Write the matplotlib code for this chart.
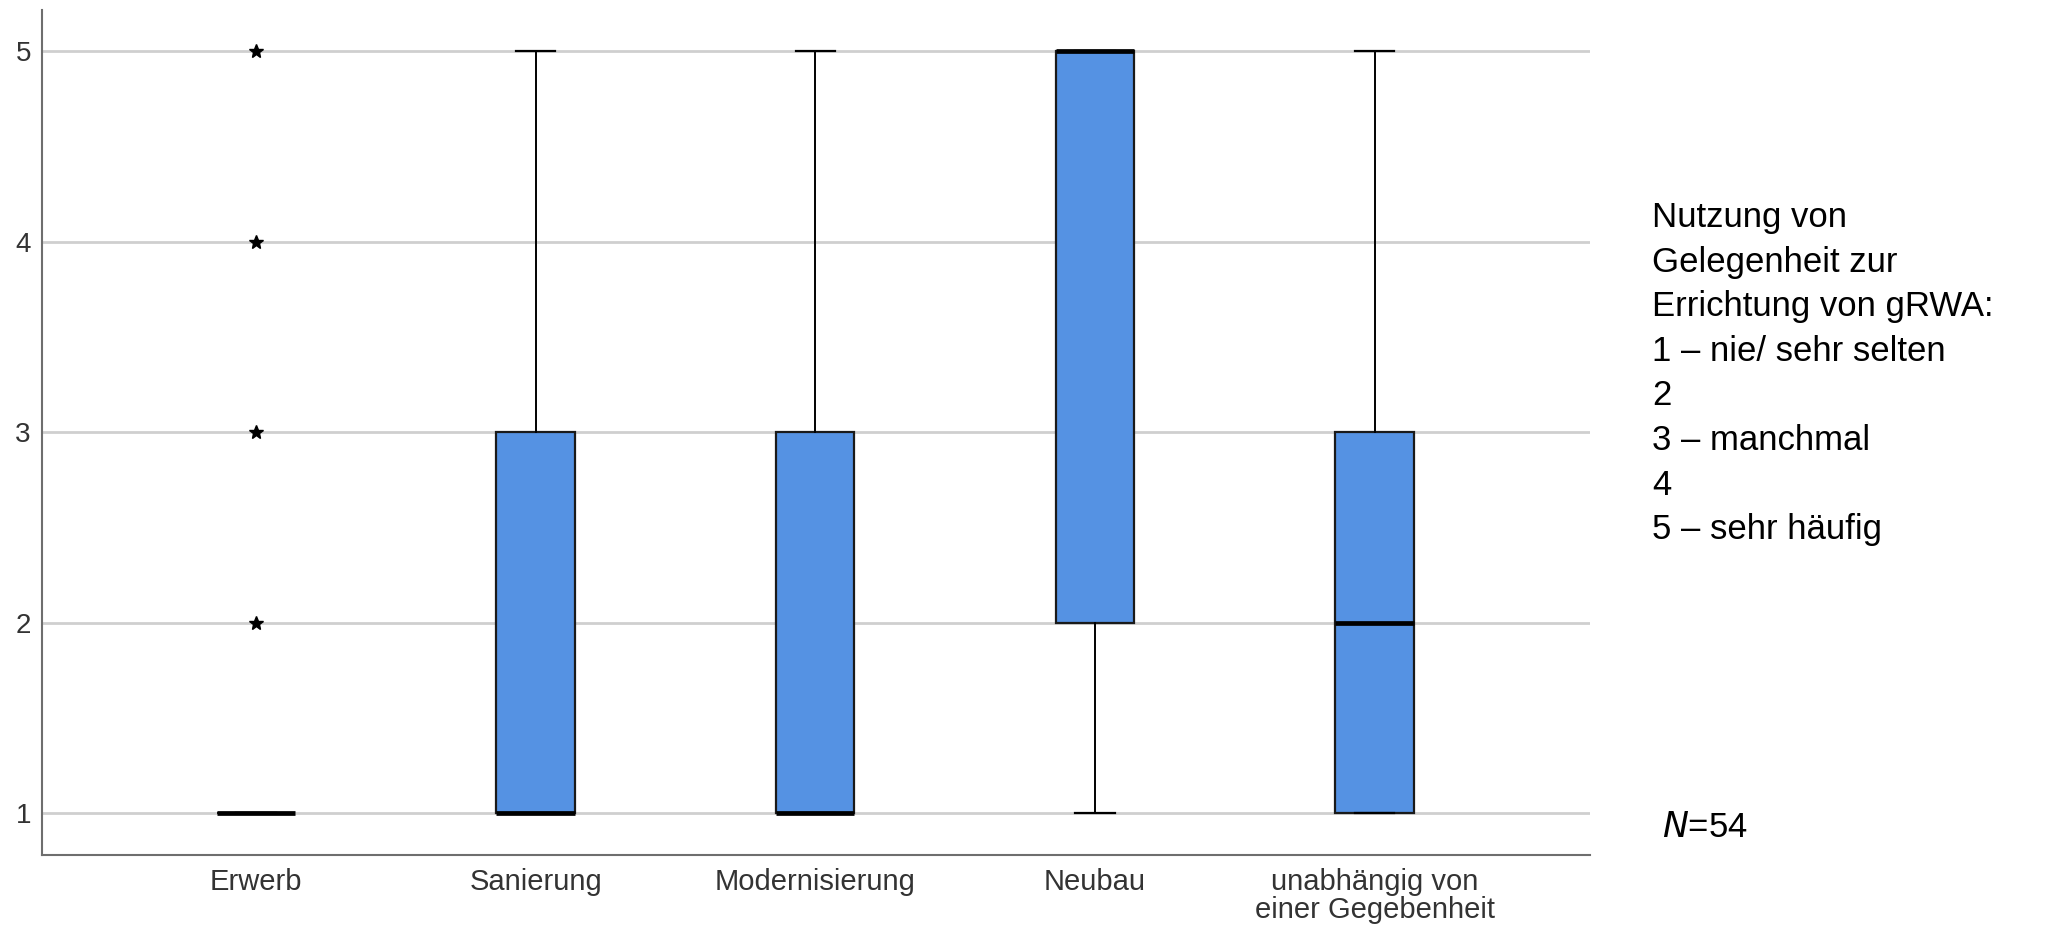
import matplotlib
matplotlib.use("Agg")
import matplotlib.pyplot as plt

plt.rcParams['font.family'] = ['Liberation Sans', 'DejaVu Sans']

# Boxplot summaries for each occasion (scale 1-5)
categories = ["Erwerb", "Sanierung", "Modernisierung", "Neubau",
              "unabhängig von\neiner Gegebenheit"]
q1 = [1, 1, 1, 2, 1]
median = [1, 1, 1, 5, 2]
q3 = [1, 3, 3, 5, 3]
whisker_low = [1, 1, 1, 1, 1]
whisker_high = [1, 5, 5, 5, 5]
outliers = [[2, 3, 4, 5], [], [], [], []]

y_ticks = [1, 2, 3, 4, 5]
legend_lines = ["Nutzung von", "Gelegenheit zur", "Errichtung von gRWA:",
                "1 – nie/ sehr selten", "2", "3 – manchmal", "4", "5 – sehr häufig"]
sample_size = 54

box_color = "#5592E3"
W, H = 2046, 925

fig = plt.figure(figsize=(W / 100, H / 100), dpi=100)
ax = fig.add_axes([42 / W, 1 - 855 / H, (1590 - 42) / W, (855 - 10) / H])

stats = []
for i, name in enumerate(categories):
    stats.append(dict(label=name, q1=q1[i], med=median[i], q3=q3[i],
                      whislo=whisker_low[i], whishi=whisker_high[i], fliers=[]))

positions = list(range(len(categories)))
ax.bxp(stats, positions=positions, widths=0.28, patch_artist=True,
       showfliers=False, showcaps=True,
       boxprops=dict(facecolor=box_color, edgecolor="#1a1a1a", linewidth=1.6),
       medianprops=dict(color="black", linewidth=3.4),
       whiskerprops=dict(color="black", linewidth=1.4),
       capprops=dict(color="black", linewidth=1.6),
       capwidths=0.14, zorder=3)

# extreme values drawn as stars
for pos, vals in zip(positions, outliers):
    if vals:
        ax.plot([pos] * len(vals), vals, linestyle="none", marker="*",
                markersize=10, color="black", zorder=4)

ax.set_xlim(-0.765, 4.77)
ax.set_ylim(0.78, 5.216)
ax.set_yticks(y_ticks)
ax.set_yticklabels([str(v) for v in y_ticks], fontsize=20, color="#333333")
ax.set_xticks(positions)
ax.set_xticklabels(categories, fontsize=21, color="#333333", linespacing=1.0)
ax.tick_params(axis="x", length=0, pad=9)
ax.tick_params(axis="y", length=0, pad=8)

ax.grid(axis="y", color="#cfcfcf", linewidth=2.0, zorder=0)
ax.set_axisbelow(True)
for side in ("top", "right"):
    ax.spines[side].set_visible(False)
for side in ("left", "bottom"):
    ax.spines[side].set_color("#6e6e6e")
    ax.spines[side].set_linewidth(1.5)

# explanatory text to the right of the plot, one line at a time
text_x = 1652 / W
first_baseline = 227
line_step = 44.6
for k, line in enumerate(legend_lines):
    fig.text(text_x, 1 - (first_baseline + k * line_step) / H, line,
             fontsize=25, va="baseline", ha="left", color="black")
fig.text(1662 / W, 1 - 837 / H, f"$\\mathit{{N}}$={sample_size}", fontsize=25,
         va="baseline", ha="left", color="black")

fig.savefig("out.png", dpi=100, facecolor="white")
